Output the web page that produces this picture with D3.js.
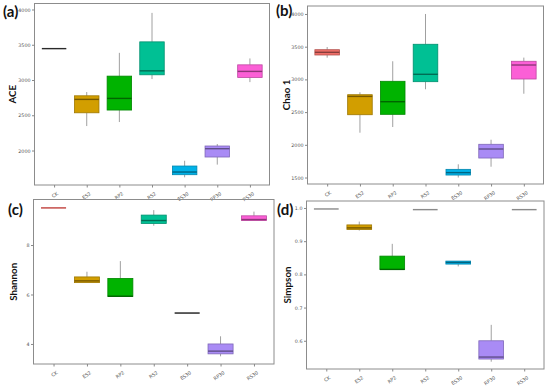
<!DOCTYPE html>
<html lang="en">
<head>
<meta charset="utf-8"/>
<script src="https://d3js.org/d3.v7.min.js"></script>
<style>
  body { margin: 0; background: #fff; }
  .frame { fill: none; stroke: #8c8c8c; stroke-width: 1px; }
  .tick-label { font-family: "DejaVu Sans", sans-serif; font-size: 4.8px; fill: #555; }
  .ytitle { font-family: Lato, "Liberation Sans", sans-serif; font-weight: bold; font-size: 9.8px; fill: #111; }
  .plabel { font-family: Lato, "Liberation Sans", sans-serif; font-weight: bold; font-size: 15px; fill: #111; }
  .whisker { stroke: #a0a0a0; stroke-width: 1px; }
</style>
</head>
<body>
<svg id="chart" width="550" height="386"></svg>
<script>
  const categories = ["CK", "ES2", "RP2", "RS2", "ES30", "RP30", "RS30"];
  const boxColors = ["#ee6e68", "#d29e00", "#00b300", "#00c094", "#00b2e8", "#a98bf5", "#fb5fd6"];

  // each row: [lower whisker, q1, median, q3, upper whisker]
  const aceStats = [
    [3445, 3445, 3445, 3445, 3445],
    [2347, 2535, 2725, 2776, 2829],
    [2404, 2574, 2739, 3055, 3385],
    [3013, 3074, 3130, 3541, 3952],
    [1620, 1657, 1695, 1780, 1855],
    [1800, 1908, 2026, 2064, 2092],
    [2970, 3037, 3122, 3215, 3306]
  ];
  const chaoStats = [
    [3332, 3373, 3414, 3454, 3495],
    [2185, 2460, 2740, 2766, 2803],
    [2272, 2466, 2659, 2971, 3277],
    [2849, 2965, 3078, 3537, 4000],
    [1500, 1538, 1575, 1625, 1702],
    [1665, 1798, 1936, 2008, 2078],
    [2781, 3006, 3220, 3277, 3333]
  ];
  const shannonStats = [
    [9.5, 9.5, 9.5, 9.5, 9.5],
    [6.48, 6.48, 6.55, 6.71, 6.92],
    [5.92, 5.92, 5.93, 6.65, 7.35],
    [8.78, 8.87, 8.99, 9.21, 9.41],
    [5.25, 5.25, 5.25, 5.25, 5.25],
    [3.5, 3.6, 3.71, 4.0, 4.31],
    [8.99, 8.99, 9.03, 9.18, 9.35]
  ];
  const simpsonStats = [
    [0.997, 0.997, 0.997, 0.997, 0.997],
    [0.932, 0.935, 0.94, 0.949, 0.959],
    [0.815, 0.815, 0.815, 0.855, 0.892],
    [0.995, 0.995, 0.995, 0.995, 0.995],
    [0.824, 0.831, 0.836, 0.840, 0.840],
    [0.537, 0.545, 0.551, 0.600, 0.648],
    [0.995, 0.995, 0.995, 0.995, 0.995]
  ];

  const aceTicks = [2000, 2500, 3000, 3500, 4000];
  const chaoTicks = [1500, 2000, 2500, 3000, 3500, 4000];
  const shannonTicks = [4, 6, 8];
  const simpsonTicks = [0.6, 0.7, 0.8, 0.9, 1.0];

  const svg = d3.select("#chart");

  const panels = [
    { tag: "(a)", title: "ACE", stats: aceStats, ticks: aceTicks, fmt: d3.format("d"), flat: "#2a2a2a",
      domain: [1511, 4085], l: 34.5, t: 3.5, r: 269.5, b: 185, tagX: 3, tagY: 17, titleX: 12.5 },
    { tag: "(b)", title: "Chao 1", stats: chaoStats, ticks: chaoTicks, fmt: d3.format("d"), flat: "#2a2a2a",
      domain: [1401, 4122], l: 307.5, t: 6, r: 543.5, b: 184, tagX: 276, tagY: 16, titleX: 286.5 },
    { tag: "(c)", title: "Shannon", stats: shannonStats, ticks: shannonTicks, fmt: d3.format("d"), flat: "#1a1a1a",
      domain: [3.19, 9.84], l: 33.5, t: 199.5, r: 274, b: 364, tagX: 8, tagY: 215, titleX: 13.5 },
    { tag: "(d)", title: "Simpson", stats: simpsonStats, ticks: simpsonTicks, fmt: d3.format(".1f"), flat: "#8a8a8a",
      domain: [0.515, 1.021], l: 306.5, t: 201, r: 544, b: 369, tagX: 277, tagY: 215, titleX: 288 }
  ];

  panels.forEach(p => {
    const g = svg.append("g");
    const x = d3.scalePoint().domain(categories).range([p.l, p.r]).padding(0.6);
    const y = d3.scaleLinear().domain(p.domain).range([p.b, p.t]);
    const bw = x.step() * 0.75;

    // frame
    g.append("rect").attr("class", "frame")
      .attr("x", p.l).attr("y", p.t)
      .attr("width", p.r - p.l).attr("height", p.b - p.t);

    // y axis
    const yAxis = g.append("g")
      .attr("transform", "translate(" + p.l + ",0)")
      .call(d3.axisLeft(y).tickValues(p.ticks).tickFormat(p.fmt).tickSize(2.5).tickPadding(1.5));
    yAxis.select(".domain").remove();
    yAxis.selectAll("line").attr("stroke", "#888");
    yAxis.selectAll("text").attr("class", "tick-label").attr("font-size", null).attr("font-family", null);

    // x axis
    const xAxis = g.append("g")
      .attr("transform", "translate(0," + p.b + ")")
      .call(d3.axisBottom(x).tickSize(2.5));
    xAxis.select(".domain").remove();
    xAxis.selectAll("line").attr("stroke", "#888");
    xAxis.selectAll("text")
      .attr("class", "tick-label").attr("font-size", null).attr("font-family", null)
      .attr("text-anchor", "end")
      .attr("x", 0).attr("y", 0).attr("dy", "0.35em")
      .attr("transform", "translate(3,8) rotate(-35)");

    // boxes
    const boxes = g.selectAll(".box").data(p.stats).enter().append("g").attr("class", "box");
    boxes.append("line").attr("class", "whisker")
      .attr("x1", (d, i) => x(categories[i])).attr("x2", (d, i) => x(categories[i]))
      .attr("y1", d => y(d[4])).attr("y2", d => y(d[3]));
    boxes.append("line").attr("class", "whisker")
      .attr("x1", (d, i) => x(categories[i])).attr("x2", (d, i) => x(categories[i]))
      .attr("y1", d => y(d[1])).attr("y2", d => y(d[0]));
    boxes.append("rect")
      .attr("x", (d, i) => x(categories[i]) - bw / 2)
      .attr("y", d => y(d[3]))
      .attr("width", bw)
      .attr("height", d => y(d[1]) - y(d[3]))
      .attr("fill", (d, i) => boxColors[i])
      .attr("stroke", (d, i) => d3.color(boxColors[i]).darker(0.8))
      .attr("stroke-width", 0.8);
    boxes.append("line")
      .attr("x1", (d, i) => x(categories[i]) - bw / 2)
      .attr("x2", (d, i) => x(categories[i]) + bw / 2)
      .attr("y1", d => y(d[2])).attr("y2", d => y(d[2]))
      .attr("stroke", (d, i) => {
        if (d[1] !== d[3]) return d3.color(boxColors[i]).darker(1.6);
        if (p.title === "Shannon" && i === 0) return "#c0403c";
        return p.flat;
      })
      .attr("stroke-width", 1.4);

    // titles
    g.append("text").attr("class", "ytitle")
      .attr("text-anchor", "middle")
      .attr("transform", "translate(" + p.titleX + "," + ((p.t + p.b) / 2) + ") rotate(-90)")
      .attr("dy", "0.35em")
      .text(p.title);
    g.append("text").attr("class", "plabel")
      .attr("x", p.tagX).attr("y", p.tagY)
      .text(p.tag);
  });
</script>
</body>
</html>
